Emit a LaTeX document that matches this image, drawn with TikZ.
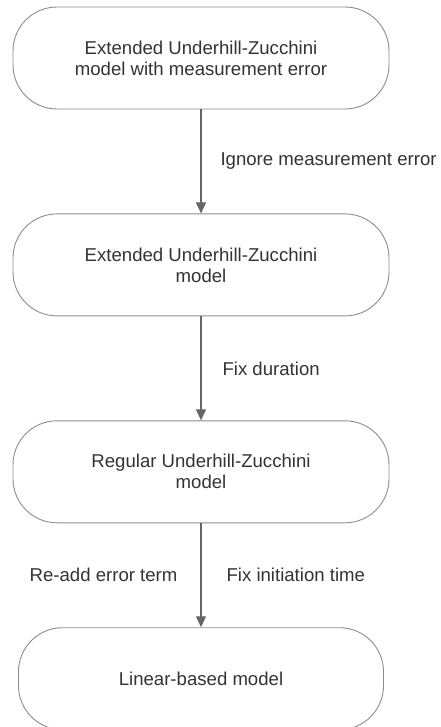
\documentclass[tikz,border=0pt]{standalone}
\usepackage{fontspec}
\setmainfont{Liberation Sans}
\usetikzlibrary{positioning,arrows.meta}

\definecolor{boxgray}{HTML}{8C8C8C}
\definecolor{arrowgray}{HTML}{666666}
\definecolor{textgray}{HTML}{333333}

\begin{document}
\begin{tikzpicture}[->,>={Triangle[width=10pt,length=11pt]},auto,node distance=104pt,
        model/.style={rectangle, draw=boxgray, line width=0.9pt, rounded corners=44pt, minimum width=376pt, minimum height=102pt, align=center, text=textgray, font=\fontsize{18.6}{21}\selectfont},
        flow/.style={draw=arrowgray, line width=1.1pt},
        move label/.style={inner sep=0pt, text=textgray, font=\fontsize{18.6}{21}\selectfont}]

            \useasboundingbox (0pt,0pt) rectangle (441pt,-727pt);

            % Models

            \node [model] (m1) at (201pt,-58pt) {Extended Underhill-Zucchini\\model with measurement error};
            \node [model] (m2) [below = of m1] {Extended Underhill-Zucchini\\model};
            \node [model] (m3) [below = of m2] {Regular Underhill-Zucchini\\model};
            \node [model, minimum width=365pt] (m4) [below = of m3] {Linear-based model};

            % Simplifications

            \path[every node/.style={move label}]
                  (m1) edge[flow] node[right=19pt] {Ignore measurement error} (m2)
                  (m2) edge[flow] node[right=21pt] {Fix duration} (m3)
                  (m3) edge[flow] node[left=23pt] {Re-add error term}
                                  node[right=25pt] {Fix initiation time} (m4)
                ;
        \end{tikzpicture}
\end{document}
